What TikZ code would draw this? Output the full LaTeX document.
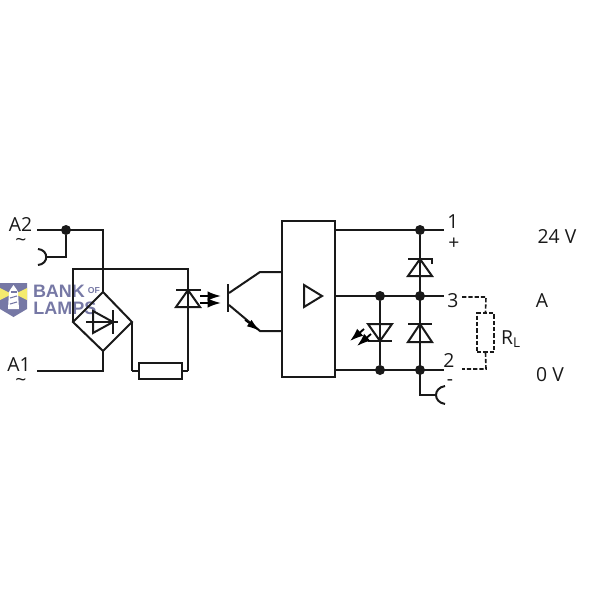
\documentclass[tikz,border=0pt]{standalone}
\usepackage{fontspec}
\setmainfont{Open Sans}
\newfontfamily\markfont{Liberation Sans}
\usetikzlibrary{arrows.meta}
\definecolor{wmblue}{RGB}{118,120,165}
\definecolor{wmyellow}{RGB}{245,235,110}
\tikzset{
  wire/.style={line width=1.5pt,black!90},
  load/.style={line width=1.2pt,dash pattern=on 3.2pt off 1.5pt,black!90},
  dot/.style={circle,fill=black!90,inner sep=0pt,minimum size=7.5pt},
  label/.style={inner sep=0pt,font=\fontsize{14.5}{15}\selectfont,text=black!90},
  mark text/.style={inner sep=0pt,text=wmblue,font=\markfont\fontsize{13.5}{14}\bfseries\selectfont},
  beam/.style={line width=1.4pt,-{Latex[length=10pt,width=7pt]}}
}
\begin{document}
\begin{tikzpicture}[x=0.75pt,y=-0.75pt]
    \useasboundingbox (0,0) rectangle (600,600);

    % watermark
    \fill[wmblue] (0,283) -- (27,283) -- (27,309) -- (13.5,317) -- (0,309) -- cycle;
    \fill[wmyellow] (0,288) -- (12,294) -- (0,300) -- cycle;
    \fill[wmyellow] (27,288) -- (15,294) -- (27,300) -- cycle;
    \fill[white] (13.5,285) -- (17,290) -- (18,292) -- (19,309) -- (8,309) -- (9,292) -- (10,290) -- cycle;
    \fill[wmblue] (10.5,291) rectangle (16.5,293);
    \draw[wmblue,line width=0.8pt] (10,298) -- (17,296);
    \draw[wmblue,line width=0.8pt] (10,304) -- (17,302);
    \node[mark text] (bank) at (59,291) {BANK};
    \node[mark text,font=\markfont\fontsize{6.5}{7}\bfseries\selectfont] (of) at (94,291) {OF};
    \node[mark text] (lamps) at (65,308) {LAMPS};

    % input side
    \coordinate (A2) at (37,230);
    \coordinate (A2r) at (103,230);
    \node[dot] (A2x) at (66,230) {};
    \coordinate (A2c) at (66,257);
    \coordinate (A2s) at (47,257);
    \coordinate (A1) at (37,371);
    \coordinate (A1r) at (103,371);
    \coordinate (BT) at (103,292);
    \coordinate (BL) at (73,322);
    \coordinate (BR) at (132,322);
    \coordinate (BB) at (103,351);
    \coordinate (LT) at (73,269);
    \coordinate (LR) at (188,269);
    \coordinate (LB) at (188,371);
    \coordinate (RB) at (132,371);

    \draw[wire] (A2) -- (A2r) -- (BT);
    \draw[wire] (A2x) -- (A2c) -- (A2s);
    \draw[wire] (38,249) .. controls (49,250) and (49,264) .. (38,265);
    \draw[wire] (A1) -- (A1r) -- (BB);
    \draw[wire] (BT) -- (BR) -- (BB) -- (BL) -- cycle;
    \draw[wire] (BL) -- (LT) -- (LR) -- (LB);
    \draw[wire] (BR) -- (RB);
    \node[draw,line width=1.5pt,black!90,fill=white,minimum width=32pt,minimum height=12pt,inner sep=0pt] (Rin) at (160.5,371) {};
    \draw[wire] (RB) -- (Rin.west);
    \draw[wire] (Rin.east) -- (LB);

    % bridge diode
    \draw[wire] (86,322) -- (118,322);
    \draw[wire] (93,311) -- (113,322) -- (93,333) -- cycle;
    \draw[wire] (113,310) -- (113,334);

    % optocoupler led
    \draw[wire] (176,290) -- (201,290);
    \draw[wire] (188,290) -- (176,307) -- (200,307) -- cycle;
    \draw[beam] (200,296) -- (221,296);
    \draw[beam] (200,303) -- (221,303);

    % transistor
    \coordinate (QC) at (260,272);
    \coordinate (QE) at (260,331);
    \draw[wire] (228,284) -- (228,312);
    \draw[wire] (229,293) -- (QC) -- (282,272);
    \draw[wire] (229,305) -- (QE) -- (282,331);
    \draw[line width=1.2pt,-{Latex[length=10pt,width=6pt]}] (245,320) -- (QE);

    % amplifier block
    \node[draw,line width=1.5pt,black!90,minimum width=39.75pt,minimum height=117pt,inner sep=0pt] (amp) at (308.5,299) {};
    \draw[wire] (304,285) -- (322,296) -- (304,307) -- cycle;

    % output side
    \coordinate (T1) at (444,230);
    \coordinate (T3) at (444,296);
    \coordinate (T2) at (444,370);
    \node[dot] (D1) at (420,230) {};
    \node[dot] (D3) at (420,296) {};
    \node[dot] (D2) at (420,370) {};
    \node[dot] (D3b) at (380,296) {};
    \node[dot] (D2b) at (380,370) {};
    \coordinate (G) at (420,395);
    \coordinate (Gs) at (437,395);
    \draw[wire] (335,230) -- (T1);
    \draw[wire] (335,296) -- (T3);
    \draw[wire] (335,370) -- (T2);
    \draw[wire] (D1) -- (G) -- (Gs);
    \draw[wire] (D3b) -- (D2b);
    \draw[wire] (445,386) .. controls (433,388) and (433,402) .. (445,404);

    % zener pair
    \draw[wire] (432,264) -- (432,259) -- (408,259);
    \draw[wire] (420,259) -- (408,276) -- (432,276) -- cycle;
    \draw[wire] (408,324) -- (432,324);
    \draw[wire] (420,324) -- (408,342) -- (432,342) -- cycle;

    % status led
    \draw[wire] (368,324) -- (392,324) -- (380,341) -- cycle;
    \draw[wire] (368,341) -- (392,341);
    \draw[beam] (364,329) -- (350,341);
    \draw[beam] (371,334) -- (357,346);

    % load
    \node[draw,load,minimum width=12.75pt,minimum height=29pt,inner sep=0pt] (RL) at (485.5,332.5) {};
    \draw[load] (462,297) -- (486,297) -- (RL.north);
    \draw[load] (RL.south) -- (486,369) -- (462,369);

    % texts
    \node[label] (tA2) at (20.5,224.5) {A2};
    \node[label] (tA2s) at (21,242) {\textasciitilde};
    \node[label] (tA1) at (19,364.5) {A1};
    \node[label] (tA1s) at (21,382) {\textasciitilde};
    \node[label] (t1) at (453,222) {1};
    \node[label] (tp) at (454,244) {+};
    \node[label] (t3) at (453,301) {3};
    \node[label] (t2) at (449,360) {2};
    \node[label] (tm) at (450,383) {-};
    \node[label] (tR) at (511,339) {R\textsubscript{L}};
    \node[label] (t24) at (557,236) {24 V};
    \node[label] (tA) at (542,301) {A};
    \node[label] (t0) at (550,375) {0 V};
\end{tikzpicture}
\end{document}
